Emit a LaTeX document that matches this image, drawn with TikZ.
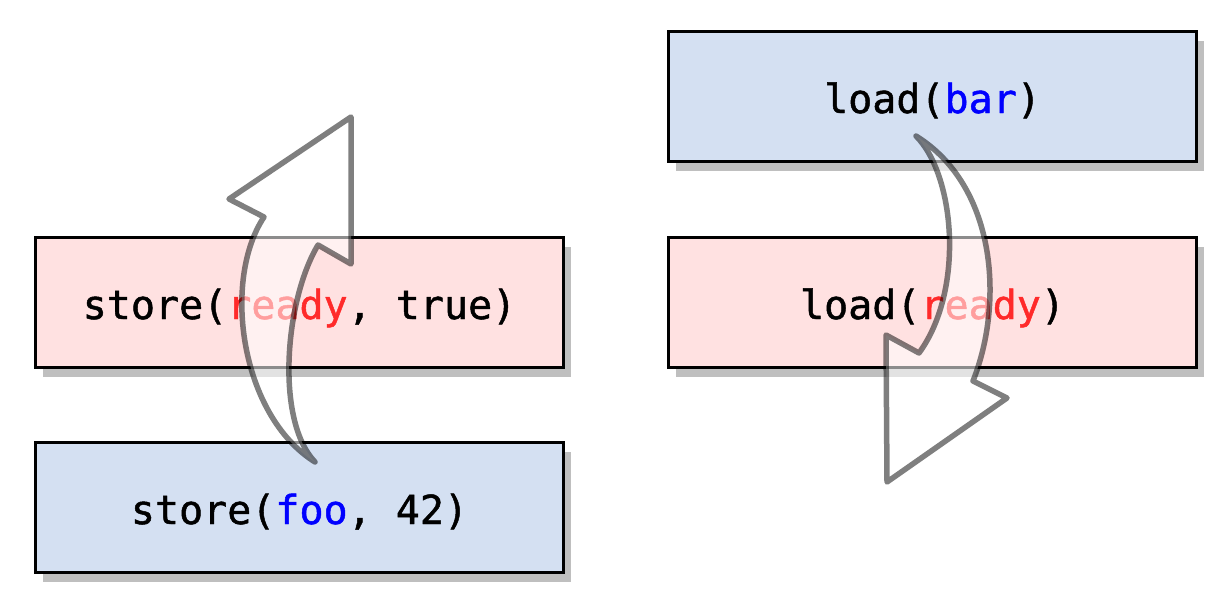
\documentclass[tikz,border=0pt]{standalone}
\usepackage{fontspec}
\setmonofont[FakeBold=1.2]{DejaVu Sans Mono}
\usetikzlibrary{shadows}
\definecolor{boxblue}{HTML}{D4E0F2}
\definecolor{boxpink}{HTML}{FFE1E1}
\definecolor{txtred}{HTML}{FF2A2A}
\definecolor{txtblue}{HTML}{0000FF}
\tikzset{
  opbox/.style={draw=black, line width=1.5pt, minimum width=264pt, minimum height=65pt,
    inner sep=0pt, text height=16.5pt, text depth=0pt,
    font=\ttfamily\fontsize{20}{24}\selectfont,
    drop shadow={shadow xshift=3.5pt, shadow yshift=-4.5pt, fill=black!25, opacity=1}},
  bluebox/.style={opbox, fill=boxblue},
  pinkbox/.style={opbox, fill=boxpink},
  fatarrow/.style={draw=black, draw opacity=0.5, line width=2.75pt, line join=round,
    fill=white, fill opacity=0.55}
}
\begin{document}
\begin{tikzpicture}[x=0.5pt,y=-0.5pt]
\useasboundingbox (0,0) rectangle (1232,616);
\node[pinkbox] (sready) at (299.5,302.5) {store(\textcolor{txtred}{ready}, true)};
\node[bluebox] (sfoo) at (299.5,507.5) {store(\textcolor{txtblue}{foo}, 42)};
\node[bluebox] (lbar) at (932.5,96.5) {load(\textcolor{txtblue}{bar})};
\node[pinkbox] (lready) at (932.5,302.5) {load(\textcolor{txtred}{ready})};
% left fat arrow (upwards)
\draw[fatarrow] (315,462) .. controls (240,415) and (222,280) .. (264,217)
  -- (229,199) -- (351,117) -- (351,264) -- (318,245)
  .. controls (285,300) and (275,420) .. (315,462) -- cycle;
% right fat arrow (downwards)
\draw[fatarrow] (916,136) .. controls (955,175) and (965,290) .. (919,353)
  -- (886,335) -- (887,482) -- (1007,398) -- (973,381)
  .. controls (1005,300) and (995,185) .. (916,136) -- cycle;
\end{tikzpicture}
\end{document}
